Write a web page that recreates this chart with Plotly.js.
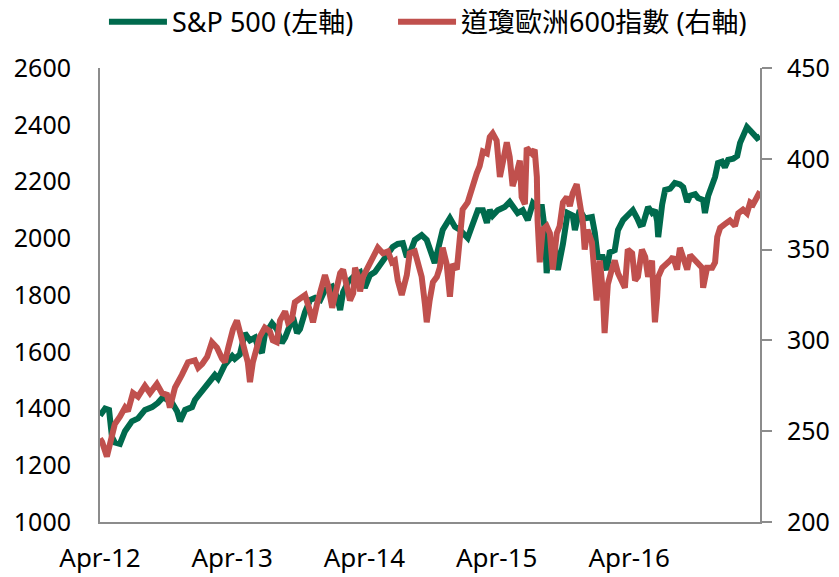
<!DOCTYPE html>
<html>
<head>
<meta charset="utf-8">
<script src="https://cdn.plot.ly/plotly-3.0.1.min.js"></script>
<style>
html,body{margin:0;padding:0;background:#fff;}
#chart{width:839px;height:577px;}
</style>
</head>
<body>
<div id="chart"></div>
<script>
// S&P 500 (left axis)
var spDates = ['2012-04-01','2012-04-15','2012-04-26','2012-05-04','2012-05-12','2012-05-26','2012-06-09','2012-06-28','2012-07-15','2012-08-03','2012-08-23','2012-09-08','2012-09-22','2012-10-17','2012-10-31','2012-11-08','2012-11-22','2012-12-11','2012-12-19',
'2013-01-08','2013-01-24','2013-02-12','2013-02-21','2013-03-12','2013-04-01','2013-04-08','2013-04-22','2013-05-06','2013-05-20','2013-06-03','2013-06-11','2013-06-22','2013-06-30','2013-07-20','2013-08-02','2013-08-16','2013-08-25','2013-09-07','2013-09-16','2013-09-27','2013-10-05','2013-10-19','2013-11-02','2013-11-16','2013-11-30','2013-12-13',
'2014-01-02','2014-01-16','2014-01-24','2014-02-01','2014-02-15','2014-03-06','2014-03-20','2014-04-02','2014-04-16','2014-04-30','2014-05-19','2014-06-05','2014-06-18','2014-07-02','2014-07-16','2014-07-27','2014-08-04','2014-08-18','2014-09-06','2014-09-20','2014-10-04','2014-10-12','2014-10-21','2014-11-03','2014-11-23','2014-12-07','2014-12-20',
'2015-01-03','2015-01-11','2015-01-22','2015-02-08','2015-02-22','2015-03-05','2015-03-13','2015-03-21','2015-04-04','2015-04-23','2015-05-07','2015-05-21','2015-05-29','2015-06-12','2015-06-26','2015-07-10','2015-07-21','2015-08-04','2015-08-12','2015-08-17','2015-08-26','2015-09-08','2015-09-17','2015-10-01','2015-10-14','2015-10-28','2015-11-03','2015-11-16','2015-11-30','2015-12-20','2015-12-28',
'2016-01-05','2016-01-19','2016-01-30','2016-02-07','2016-02-21','2016-03-01','2016-03-15','2016-03-28','2016-04-11','2016-04-23','2016-05-01','2016-05-09','2016-05-23','2016-06-03','2016-06-11','2016-06-17','2016-06-20','2016-07-01','2016-07-09','2016-07-23','2016-08-05','2016-08-19','2016-08-28','2016-09-08','2016-09-16','2016-09-30','2016-10-08','2016-10-22','2016-10-27','2016-11-05','2016-11-16','2016-11-24','2016-12-02','2016-12-13','2016-12-21','2016-12-30',
'2017-01-13','2017-01-24','2017-02-01','2017-02-09','2017-02-20','2017-03-01','2017-03-09','2017-03-20','2017-03-28'];
var spValues = [1375,1400,1395,1300,1280,1275,1320,1355,1365,1395,1405,1420,1440,1420,1390,1355,1395,1405,1430,
1465,1493,1518,1505,1555,1585,1575,1590,1665,1640,1650,1617,1596,1660,1700,1680,1631,1650,1700,1722,1666,1680,1740,1782,1790,1782,1818,
1830,1790,1747,1810,1846,1870,1880,1825,1870,1881,1913,1948,1969,1980,1983,1934,1945,1994,2011,1994,1948,1913,1960,2029,2071,2040,2030,
2010,2001,2040,2099,2099,2054,2100,2080,2099,2110,2128,2100,2089,2099,2064,2124,2110,2110,2029,1877,1969,1980,1888,1980,2089,2080,2029,2099,2070,2075,2020,
1934,1934,1888,1950,1958,2029,2064,2080,2099,2070,2047,2050,2110,2090,2099,2060,2004,2120,2170,2175,2195,2190,2180,2128,2150,2155,2142,2135,2089,2150,2188,2216,2265,2270,2250,2276,
2280,2290,2336,2360,2392,2380,2370,2353,2360];

// STOXX Europe 600 (right axis)
var euDates = ['2012-04-01','2012-04-07','2012-04-20','2012-04-29','2012-05-12','2012-05-26','2012-06-09','2012-06-17','2012-07-01','2012-07-15','2012-08-03','2012-08-17','2012-09-05','2012-09-19','2012-10-03','2012-10-11','2012-10-25','2012-11-13','2012-11-30','2012-12-19','2012-12-28',
'2013-01-08','2013-01-22','2013-02-04','2013-02-18','2013-03-04','2013-03-12','2013-03-21','2013-04-03','2013-04-14','2013-04-28','2013-05-06','2013-05-14','2013-05-20','2013-05-28','2013-06-08','2013-06-16','2013-06-30','2013-07-14','2013-07-22','2013-08-02','2013-08-11','2013-08-25','2013-09-02','2013-09-13','2013-09-21','2013-10-05','2013-10-19','2013-11-02','2013-11-10','2013-11-21','2013-12-05','2013-12-13','2013-12-22',
'2014-01-02','2014-01-10','2014-01-24','2014-02-01','2014-02-12','2014-02-20','2014-03-01','2014-03-06','2014-03-15','2014-03-20','2014-03-28','2014-04-10','2014-04-24','2014-05-08','2014-05-22','2014-06-05','2014-06-16','2014-06-24','2014-07-02','2014-07-13','2014-07-27','2014-08-04','2014-08-18','2014-08-26','2014-09-06','2014-09-15','2014-09-20','2014-09-28','2014-10-07','2014-10-18','2014-10-26','2014-11-03','2014-11-14','2014-11-23','2014-12-01','2014-12-12','2014-12-20','2014-12-28',
'2015-01-11','2015-01-22','2015-02-05','2015-02-13','2015-02-22','2015-03-05','2015-03-13','2015-03-21','2015-04-01','2015-04-10','2015-04-18','2015-04-29','2015-05-07','2015-05-15','2015-05-26','2015-06-04','2015-06-09','2015-06-18','2015-06-23','2015-07-07','2015-07-15','2015-07-21','2015-07-23','2015-07-29','2015-08-06','2015-08-17','2015-08-26','2015-09-03','2015-09-14','2015-09-22','2015-10-01','2015-10-12','2015-10-20','2015-10-28','2015-11-08','2015-11-16','2015-11-25','2015-11-30','2015-12-08','2015-12-20','2015-12-28',
'2016-01-02','2016-01-11','2016-01-19','2016-01-24','2016-02-02','2016-02-13','2016-02-21','2016-03-01','2016-03-12','2016-03-20','2016-03-28','2016-04-09','2016-04-17','2016-04-25','2016-05-06','2016-05-15','2016-05-23','2016-06-03','2016-06-06','2016-06-11','2016-06-17','2016-06-20','2016-07-01','2016-07-14','2016-07-23','2016-07-31','2016-08-11','2016-08-19','2016-08-28','2016-09-08','2016-09-16','2016-09-30','2016-10-08','2016-10-19','2016-10-22','2016-11-02','2016-11-16','2016-11-24','2016-11-30','2016-12-08','2016-12-21',
'2017-01-04','2017-01-18','2017-01-27','2017-02-09','2017-02-20','2017-03-01','2017-03-09','2017-03-20','2017-03-28'];
var euValues = [246,244,236,244,254,258,263,261,271,269,275,271,276,271,270,263,274,281,288,289,285,
287,291,299,296,290,288,296,306,311,300,295,288,277,288,296,302,307,305,300,299,311,316,310,312,321,323,325,316,310,320,329,336,330,
318,325,337,339,330,322,326,340,335,327,335,340,344,351,348,349,343,344,333,325,336,348,349,343,335,320,310,322,332,335,340,351,342,324,342,339,361,372,
376,384,392,396,404,403,412,414,410,390,399,409,401,385,392,399,379,375,406,403,405,390,366,343,361,363,359,339,359,363,376,379,374,381,386,374,365,350,361,354,337,
322,344,327,304,331,339,344,337,333,329,350,348,333,335,350,346,335,344,329,310,324,335,340,342,344,346,339,351,346,339,347,344,342,340,329,340,340,343,357,362,364,
366,363,370,372,370,376,375,379,382];

var seriesNames = ['S&P 500 (左軸)', '道瓊歐洲600指數 (右軸)'];
var xTickVals = ['2012-04-01','2013-04-01','2014-04-01','2015-04-01','2016-04-01'];
var xTickText = ['Apr-12','Apr-13','Apr-14','Apr-15','Apr-16'];
var leftTicks = [1000,1200,1400,1600,1800,2000,2200,2400,2600];
var rightTicks = [200,250,300,350,400,450];

var FONT = '"Noto Sans", "Noto Sans CJK TC", sans-serif';
var axisGray = '#8c8c8c';

var traces = [
  {x: spDates, y: spValues, type: 'scatter', mode: 'lines', name: seriesNames[0],
   line: {color: '#006A4D', width: 6}, yaxis: 'y', legend: 'legend'},
  {x: euDates, y: euValues, type: 'scatter', mode: 'lines', name: seriesNames[1],
   line: {color: '#C0504D', width: 6}, yaxis: 'y2', legend: 'legend2'}
];

var legendBase = {orientation: 'h', xanchor: 'left', y: 1.101, yanchor: 'middle',
                  font: {family: FONT, size: 27, color: '#000'}, itemwidth: 58};

var layout = {
  width: 839, height: 577,
  margin: {l: 100, r: 79, t: 68, b: 55, autoexpand: false},
  paper_bgcolor: '#fff', plot_bgcolor: '#fff',
  font: {family: FONT, size: 25, color: '#000'},
  showlegend: true,
  legend: Object.assign({}, legendBase, {x: 0.006}),
  legend2: Object.assign({}, legendBase, {x: 0.444}),
  xaxis: {type: 'date', range: ['2012-04-01', '2017-03-28'],
          tickvals: xTickVals, ticktext: xTickText, ticks: '', showgrid: false, zeroline: false,
          showline: true, linecolor: axisGray, linewidth: 2, ticklabelstandoff: 12,
          tickfont: {family: FONT, size: 26, color: '#000'}},
  yaxis: {range: [1000, 2600], tickvals: leftTicks, ticks: '', showgrid: false, zeroline: false,
          showline: true, linecolor: axisGray, linewidth: 2, ticklabelstandoff: 22,
          tickfont: {family: FONT, size: 25, color: '#000'}},
  yaxis2: {range: [200, 450], tickvals: rightTicks, overlaying: 'y', side: 'right',
           ticks: 'outside', ticklen: 10, tickwidth: 2, tickcolor: axisGray, showgrid: false, zeroline: false,
           showline: true, linecolor: axisGray, linewidth: 2, ticklabelstandoff: 10,
           tickfont: {family: FONT, size: 25, color: '#000'}}
};

Plotly.newPlot('chart', traces, layout, {displayModeBar: false, staticPlot: true});
</script>
</body>
</html>
